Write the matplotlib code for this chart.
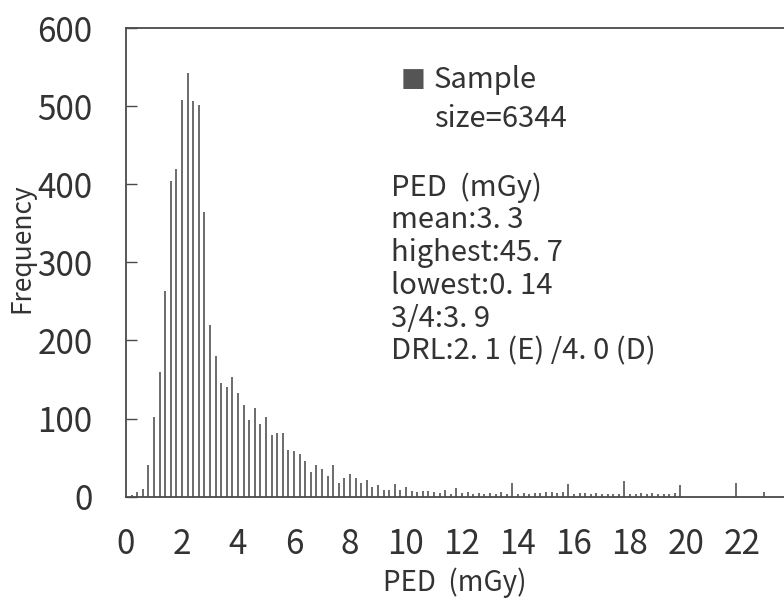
import numpy as np
import matplotlib
matplotlib.use("Agg")
import matplotlib.pyplot as plt

# Histogram of PED values, bins of 0.2 mGy
ped_bins = np.round(np.arange(1, 121) * 0.2, 1)
counts = [2, 6, 10, 41, 102, 160, 263, 404, 419, 508,
          543, 506, 502, 365, 220, 180, 146, 141, 153, 133,
          118, 98, 113, 93, 102, 79, 81, 82, 60, 58,
          55, 46, 32, 40, 36, 26, 40, 17, 24, 29,
          24, 18, 21, 12, 15, 9, 9, 16, 9, 12,
          7, 6, 7, 7, 6, 5, 8, 4, 11, 5,
          6, 4, 5, 4, 5, 3, 6, 4, 17, 4,
          5, 3, 5, 5, 6, 6, 5, 6, 16, 4,
          5, 5, 3, 5, 4, 3, 4, 4, 20, 3,
          3, 5, 4, 5, 3, 3, 4, 5, 15, 0,
          0, 0, 0, 0, 0, 0, 0, 0, 18, 0,
          0, 0, 0, 6, 0, 0, 0, 0, 0, 0]

x_ticks = list(range(0, 24, 2))
y_ticks = [0, 100, 200, 300, 400, 500, 600]

legend_lines = ["Sample", "size=6344"]
stats_lines = ["PED  (mGy)", "mean:3. 3", "highest:45. 7",
               "lowest:0. 14", "3/4:3. 9", "DRL:2. 1 (E) /4. 0 (D)"]

plt.rcParams['font.family'] = ['Noto Sans CJK JP', 'DejaVu Sans']

fig = plt.figure(figsize=(7.84, 6.06), dpi=100)
# axes run off the right edge of the picture like the scanned original
ax = fig.add_axes([126 / 784, 109.3 / 606, 658 / 784, 468.7 / 606])

ax.bar(ped_bins, counts, width=0.07, color='#6f6f6f', linewidth=0)

ax.set_xlim(0, 658 / 28)
ax.set_ylim(0, 600)
ax.set_xticks(x_ticks)
ax.set_yticks(y_ticks)

for s in ['left', 'top', 'bottom']:
    ax.spines[s].set_color('#4a4a4a')
    ax.spines[s].set_linewidth(1.3)
ax.spines['right'].set_visible(False)

ax.tick_params(axis='y', direction='in', length=8, width=1.0, color='#4a4a4a',
               labelsize=24, pad=24, labelcolor='#333333')
ax.tick_params(axis='x', length=0, labelsize=24, pad=22, labelcolor='#333333')

ax.set_xlabel("PED  (mGy)", fontsize=20, color='#333333', labelpad=4)
ax.set_ylabel("Frequency", fontsize=19, color='#333333')
ax.yaxis.set_label_coords(-0.138, 0.53)

# legend-like note
ax.text(10.25, 535, "■", family='DejaVu Sans', fontsize=19, color='#555555',
        ha='center', va='center')
ax.text(11.0, 533, legend_lines[0], fontsize=21, color='#333333', va='center')
ax.text(11.0, 484, legend_lines[1], fontsize=21, color='#333333', va='center')

y0 = 396
step = 42
for i, line in enumerate(stats_lines):
    ax.text(9.45, y0 - i * step, line, fontsize=21, color='#333333', va='center')

plt.savefig("out.png", dpi=100)
